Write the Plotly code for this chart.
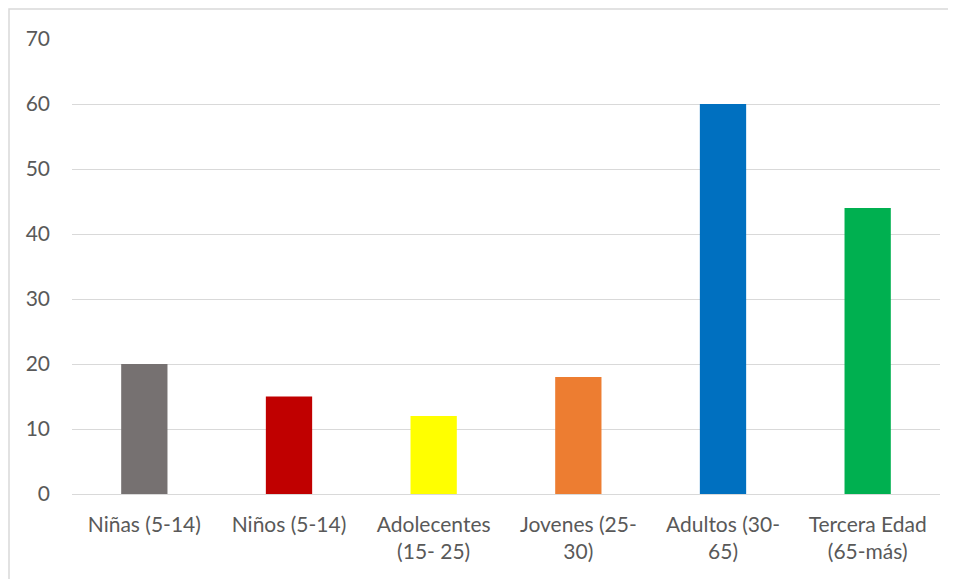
import plotly.graph_objects as go

categories = ["Niñas (5-14)", "Niños (5-14)", "Adolecentes<br>(15- 25)", "Jovenes (25-<br>30)", "Adultos (30-<br>65)", "Tercera Edad<br>(65-más)"]
values = [20, 15, 12, 18, 60, 44]
colors = ["#767171", "#c00000", "#ffff00", "#ed7d31", "#0070c0", "#00b050"]
y_ticks = [0, 10, 20, 30, 40, 50, 60, 70]

OFF = 8  # page body margin
W, H = 956, 579
L, R, T, B = 72 - OFF, 24, 39 - OFF, 93
pw, ph = W - L - R, H - T - B

fig = go.Figure(go.Bar(x=categories, y=values, marker=dict(color=colors, line=dict(width=0)), width=0.32))

def px_x(p):
    return (p - OFF - L) / pw

def px_y(p):
    return (H - B - (p - OFF)) / ph

fig.add_shape(type="rect", xref="paper", yref="paper",
              x0=px_x(9), x1=px_x(980), y0=px_y(600), y1=px_y(9),
              line=dict(color="#d9d9d9", width=1.5), fillcolor="rgba(0,0,0,0)", layer="below")

font = dict(family="Lato, 'Open Sans', sans-serif", size=21, color="#595959")
fig.update_layout(
    width=W, height=H,
    margin=dict(l=L, r=R, t=T, b=B, autoexpand=False),
    paper_bgcolor="white", plot_bgcolor="white",
    showlegend=False,
    font=font,
    xaxis=dict(showgrid=False, showline=False, ticks="", tickfont=font, ticklabelstandoff=16),
    yaxis=dict(range=[0, 70], tickvals=y_ticks, showgrid=True, gridcolor="#d9d9d9", gridwidth=1,
               zeroline=True, zerolinecolor="#d9d9d9", zerolinewidth=1, showline=False,
               ticks="", tickfont=font, ticklabelstandoff=21),
)
fig.write_html("out.html")
